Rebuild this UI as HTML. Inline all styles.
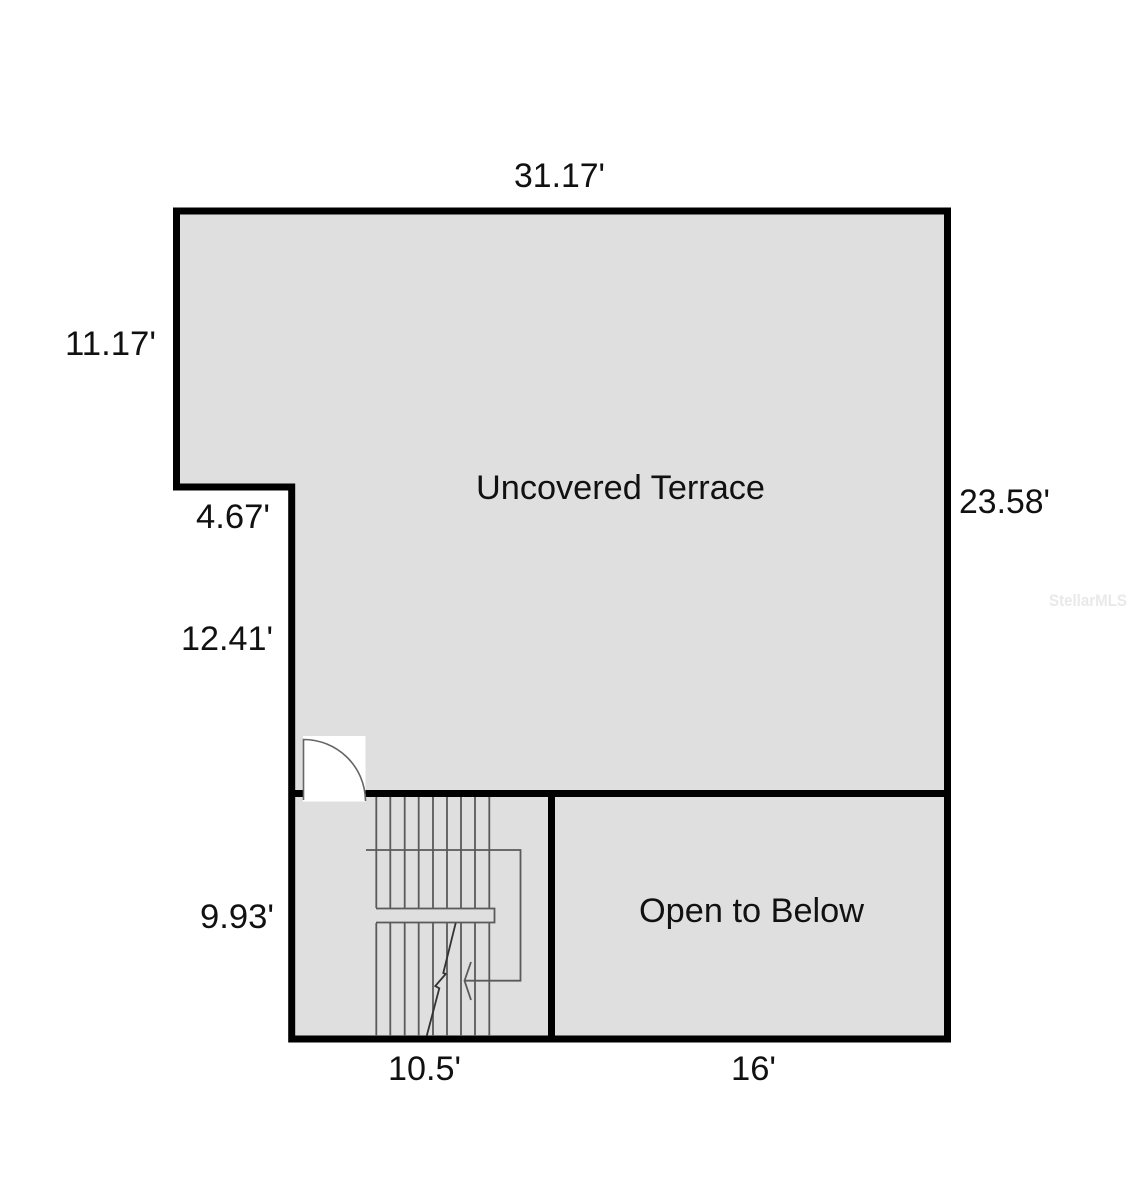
<!DOCTYPE html>
<html>
<head>
<meta charset="utf-8">
<style>
html,body{margin:0;padding:0;background:#fff;}
svg{display:block;}
text{font-family:"Liberation Sans",sans-serif;font-size:34px;fill:#111;}
</style>
</head>
<body>
<svg width="1130" height="1200" viewBox="0 0 1130 1200" xmlns="http://www.w3.org/2000/svg">
<rect width="1130" height="1200" fill="#fff"/>
<path d="M176.5 211H947.5V1039H291.7V487H176.5Z" fill="#dfdfdf" stroke="#000" stroke-width="7" stroke-linejoin="miter"/>
<path d="M291.7 793.5H947.5M551.5 793.5V1039" fill="none" stroke="#000" stroke-width="7"/>
<rect x="303" y="736" width="62.5" height="65.5" fill="#fff"/>
<path d="M303.5 800V739.5C336 739.5 365 765 365.5 801" fill="none" stroke="#666" stroke-width="1.6"/>
<g stroke="#5a5a5a" stroke-width="1.8" fill="none">
<path d="M376.3 797V908M390.3 797V908M404.7 797V908M418.7 797V908M433 797V908M447 797V908M461 797V908M475 797V908M489.3 797V908"/>
<path d="M376.3 923V1036M390.3 923V1036M404.7 923V1036M418.7 923V1036M433 923V1036M447 923V1036M461 923V1036M475 923V1036M489.3 923V1036"/>
<path d="M376 908.5H494.5V922.5H376"/>
<path d="M366 850H520.5V980.7H465"/>
<path d="M471 962L464.5 980.7L471 1000"/>
</g>
<path d="M455.7 923L443.3 973L445.7 974L435.3 986L439.3 988.3L426.7 1036" fill="none" stroke="#333" stroke-width="1.8"/>
<text x="514" y="187" textLength="91" lengthAdjust="spacingAndGlyphs">31.17'</text>
<text x="65" y="355" textLength="91" lengthAdjust="spacingAndGlyphs">11.17'</text>
<text x="476" y="499" textLength="289" lengthAdjust="spacingAndGlyphs">Uncovered Terrace</text>
<text x="959" y="513" textLength="91" lengthAdjust="spacingAndGlyphs">23.58'</text>
<text x="196" y="528" textLength="74" lengthAdjust="spacingAndGlyphs">4.67'</text>
<text x="181" y="650" textLength="92" lengthAdjust="spacingAndGlyphs">12.41'</text>
<text x="200" y="928" textLength="74" lengthAdjust="spacingAndGlyphs">9.93'</text>
<text x="639" y="922" textLength="225" lengthAdjust="spacingAndGlyphs">Open to Below</text>
<text x="388" y="1080" textLength="73" lengthAdjust="spacingAndGlyphs">10.5'</text>
<text x="731" y="1080" textLength="45" lengthAdjust="spacingAndGlyphs">16'</text>
<text x="1049" y="606" textLength="78" lengthAdjust="spacingAndGlyphs" style="font-size:17px;fill:#e9e9e9;font-weight:bold">StellarMLS</text>
</svg>
</body>
</html>
